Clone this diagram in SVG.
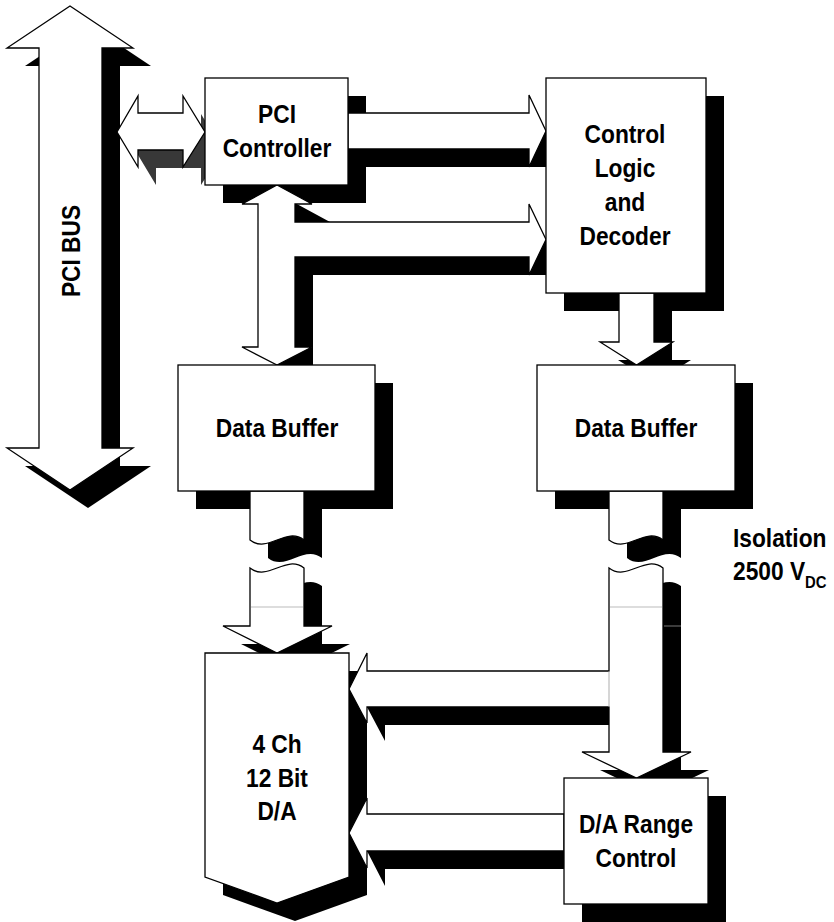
<svg xmlns="http://www.w3.org/2000/svg" width="834" height="922" viewBox="0 0 834 922">
<style>
.w{fill:#fff;stroke:#000;stroke-width:1.3;stroke-linejoin:miter}
.s{fill:#000;stroke:none}
.g{fill:#383838;stroke:none}
.t{font-family:"Liberation Sans",Arial,sans-serif;font-weight:bold;font-size:26px;fill:#000;text-anchor:middle}
.l{text-anchor:start}
.seam{stroke:#bbb;stroke-width:1.2;fill:none}
</style>
<defs>
<path id="bus" d="M70,6 L133,48 L102,48 L102,448 L133,448 L70,490 L7,448 L39,448 L39,48 L7,48 Z"/>
<path id="pcilink" d="M117,132 L138,96 L138,113 L183,113 L183,96 L205,132 L183,167 L183,150 L138,150 L138,167 Z"/>
<path id="a1" d="M348,113 L529,113 L529,95 L546,131 L529,167 L529,149 L348,149 Z"/>
<path id="a2" d="M277,185 L312,204 L295,204 L295,222 L529,222 L529,204 L546,239.5 L529,275 L529,257 L295,257 L295,347 L312,347 L277,365 L242,347 L258,347 L258,204 L242,204 Z"/>
<path id="a3" d="M619,293 L654,293 L654,342 L673,342 L636.5,365 L600,342 L619,342 Z"/>
<path id="lu" d="M250,491 L250,540 C268,554 286,526 304,540 L304,491 Z"/>
<path id="ll" d="M250,568 C268,582 286,554 304,568 L304,626 L332,626 L277,653 L223,626 L250,626 Z"/>
<path id="ru" d="M609,491 L609,540 C627,554 645,526 663,540 L663,491 Z"/>
<path id="rl" d="M609,568 C627,582 645,554 663,568 L663,752 L691,752 L636.5,778 L582,752 L609,752 L609,707 L367,707 L367,723 L349,689 L367,653 L367,671 L609,671 Z"/>
<path id="a4" d="M564,814 L367,814 L367,798 L349,833 L367,868 L367,851 L564,851 Z"/>
<path id="da" d="M205,653 L349,653 L349,877 L277,903 L205,877 Z"/>
</defs>

<g id="shadows">
<use href="#bus" class="s" transform="translate(18,18)"/>
<use href="#pcilink" class="g" transform="translate(18,18)"/>
<rect class="s" x="223" y="96" width="143" height="107"/>
<use href="#a1" class="s" transform="translate(18,18)"/>
<use href="#a2" class="s" transform="translate(18,18)"/>
<rect class="s" x="564" y="96" width="160" height="215"/>
<use href="#a3" class="s" transform="translate(18,18)"/>
<rect class="s" x="196" y="383" width="197" height="126"/>
<rect class="s" x="555" y="383" width="198" height="126"/>
<use href="#lu" class="s" transform="translate(18,18)"/>
<use href="#ll" class="s" transform="translate(18,18)"/>
<use href="#ru" class="s" transform="translate(18,18)"/>
<use href="#rl" class="s" transform="translate(18,18)"/>
<use href="#a4" class="s" transform="translate(18,18)"/>
<use href="#da" class="s" transform="translate(18,18)"/>
<rect class="s" x="582" y="796" width="144" height="126"/>
</g>

<g id="connectors">
<use href="#pcilink" class="w"/>
<use href="#a1" class="w"/>
<use href="#a2" class="w"/>
<use href="#a3" class="w"/>
<use href="#lu" class="w"/>
<use href="#ll" class="w"/>
<use href="#ru" class="w"/>
<use href="#rl" class="w"/>
<use href="#a4" class="w"/>
<line class="seam" x1="251" y1="607" x2="303" y2="607"/>
<line class="seam" x1="610" y1="607" x2="662" y2="607"/>
<line x1="609" y1="671.7" x2="609" y2="706.3" stroke="#fff" stroke-width="1.6"/>
<line class="seam" x1="609" y1="672" x2="609" y2="706"/>
<line x1="664" y1="626" x2="681" y2="626" stroke="#777" stroke-width="1"/>
</g>

<g id="pci-bus">
<use href="#bus" class="w"/>
<text class="t" transform="translate(80,251) rotate(-90) scale(0.875,1)">PCI BUS</text>
</g>

<g id="pci-controller">
<rect class="w" x="205" y="78" width="143" height="107"/>
<text class="t" transform="translate(277,123) scale(0.875,1)">PCI</text>
<text class="t" transform="translate(277,157) scale(0.875,1)">Controller</text>
</g>

<g id="control-logic">
<rect class="w" x="546" y="78" width="160" height="215"/>
<text class="t" transform="translate(625,143) scale(0.875,1)">Control</text>
<text class="t" transform="translate(625,177) scale(0.875,1)">Logic</text>
<text class="t" transform="translate(625,211) scale(0.875,1)">and</text>
<text class="t" transform="translate(625,245) scale(0.875,1)">Decoder</text>
</g>

<g id="data-buffer-left">
<rect class="w" x="178" y="365" width="197" height="126"/>
<text class="t" transform="translate(277,437) scale(0.875,1)">Data Buffer</text>
</g>

<g id="data-buffer-right">
<rect class="w" x="537" y="365" width="198" height="126"/>
<text class="t" transform="translate(636,437) scale(0.875,1)">Data Buffer</text>
</g>

<g id="isolation">
<text class="t l" transform="translate(733,547) scale(0.875,1)">Isolation</text>
<text class="t l" transform="translate(733,580) scale(0.875,1)">2500 V<tspan font-size="17" dy="8">DC</tspan></text>
</g>

<g id="da-converter">
<use href="#da" class="w"/>
<text class="t" transform="translate(277,753) scale(0.875,1)">4 Ch</text>
<text class="t" transform="translate(277,787) scale(0.875,1)">12 Bit</text>
<text class="t" transform="translate(277,820) scale(0.875,1)">D/A</text>
</g>

<g id="da-range-control">
<rect class="w" x="564" y="778" width="144" height="126"/>
<text class="t" transform="translate(636,833) scale(0.875,1)">D/A Range</text>
<text class="t" transform="translate(636,867) scale(0.875,1)">Control</text>
</g>
</svg>
